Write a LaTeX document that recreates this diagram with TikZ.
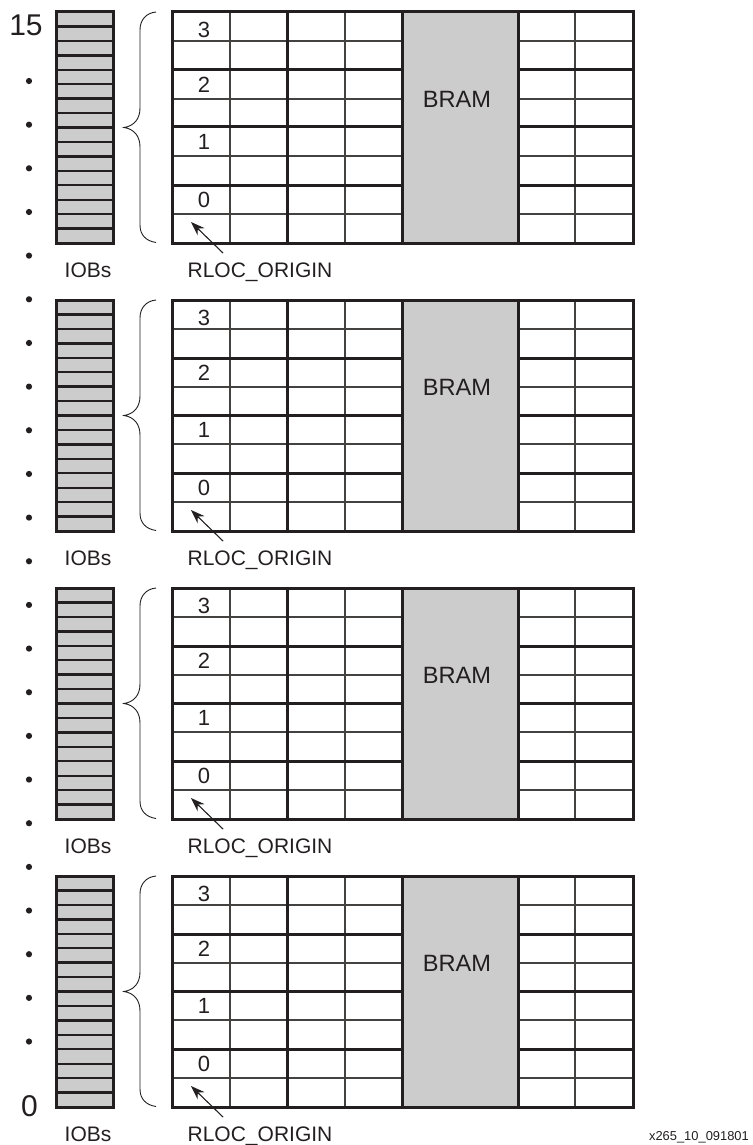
\documentclass[tikz,border=0pt]{standalone}
\usepackage{fontspec}
\setmainfont{Liberation Sans}
\usetikzlibrary{arrows.meta}
\definecolor{ink}{RGB}{35,31,32}
\definecolor{blockgray}{RGB}{204,204,204}

\begin{document}
\begin{tikzpicture}[x=1pt, y=-1pt, color=ink,
      heavy/.style={draw=ink, line width=3pt},
      light/.style={draw=ink!85, line width=1.3pt},
      iob/.style={heavy, fill=blockgray, minimum width=57pt, minimum height=231pt,
                  inner sep=0pt, outer sep=0pt},
      bram/.style={heavy, fill=blockgray, minimum width=116pt, minimum height=231pt,
                   inner sep=0pt, outer sep=0pt},
      lbl/.style={anchor=base, inner sep=0pt, font=\fontsize{21}{24}\selectfont},
      rownum/.style={inner sep=0pt, font=\fontsize{22}{26}\selectfont},
      dotmark/.style={circle, fill=ink, inner sep=0pt, minimum size=6.2pt},
      arr/.style={-{Stealth[length=14pt, width=10pt]}, line width=1.1pt, draw=ink}]

    \useasboundingbox (0,0) rectangle (752,1145);

    % four identical groups
    \foreach \off [count=\n] in {0,288,576,864} {
      % CLB grid
      \foreach \yy in {41,99,156,214}
        \draw[light] (172,\off+\yy) -- (633,\off+\yy);
      \foreach \xx in {230,345,575}
        \draw[light] (\xx,\off+12) -- (\xx,\off+243);
      \foreach \yy in {70,127,185}
        \draw[heavy] (172,\off+\yy) -- (633,\off+\yy);
      \draw[heavy] (287,\off+12) -- (287,\off+243);
      \draw[heavy] (172,\off+12) rectangle (633,\off+243);

      \node[bram] (bram\n) at (460,\off+127.5) {};
      \node[font=\fontsize{23.6}{28}\selectfont] (bramtext\n) at (457,\off+99.5) {BRAM};

      \node[rownum] (rowa\n) at (204,\off+29.5) {3};
      \node[rownum] (rowb\n) at (204,\off+84.5) {2};
      \node[rownum] (rowc\n) at (204,\off+142) {1};
      \node[rownum] (rowd\n) at (204,\off+200) {0};

      % IOB column
      \node[iob] (iob\n) at (84.5,\off+127.5) {};
      \foreach \k in {1,...,15}
        \draw[ink, line width=2.4pt] (56,\off+12+\k*14.44) -- (113,\off+12+\k*14.44);
      \node[lbl] (ioblabel\n) at (88,\off+277.5) {IOBs};

      % brace
      \draw[ink, line width=0.9pt] (156,\off+12) .. controls (146,\off+13) and (140,\off+20) .. (140,\off+30)
        -- (140,\off+108) .. controls (140,\off+119) and (134,\off+126) .. (124,\off+127.5)
        .. controls (134,\off+129) and (140,\off+136) .. (140,\off+147)
        -- (140,\off+225) .. controls (140,\off+235) and (146,\off+241) .. (156,\off+242.5);

      % origin marker
      \node[lbl] (origin\n) at (260,\off+277.5) {RLOC\_ORIGIN};
      \coordinate (tail\n) at (223,\off+253);
      \coordinate (tip\n) at (191,\off+222);
      \draw[arr] (tail\n) -- (tip\n);
    }

    % column of dots between the end numbers
    \foreach \i in {0,...,22}
      \node[dotmark] (dot\i) at (29,81+\i*43.66) {};
    \node[inner sep=0pt, font=\fontsize{30}{34}\selectfont] (top) at (26,25.5) {15};
    \node[inner sep=0pt, font=\fontsize{30}{34}\selectfont] (bottom) at (29.5,1106) {0};

    \node[anchor=base east, inner sep=0pt, font=\fontsize{12.9}{15}\selectfont] (figid) at (749,1140) {x265\_10\_091801};
  \end{tikzpicture}
\end{document}
